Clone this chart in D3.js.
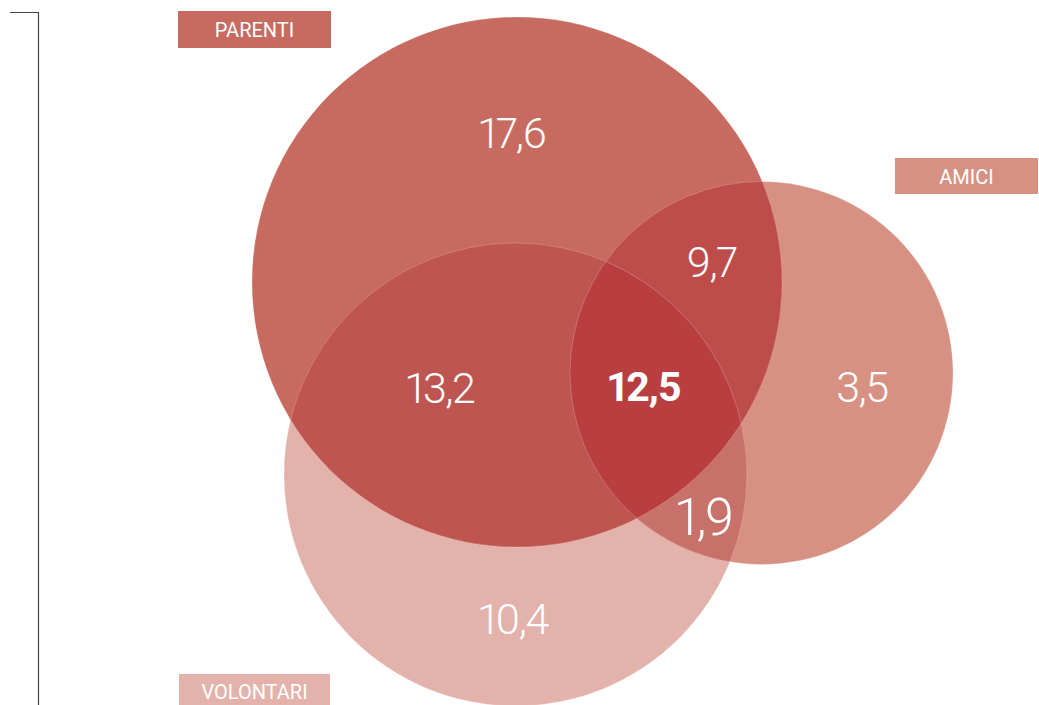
<!DOCTYPE html>
<html>
<head>
<meta charset="utf-8">
<script src="https://cdn.jsdelivr.net/npm/d3@7"></script>
<style>
  body { margin: 0; background: #fff; }
  svg { display: block; }
  .num { font-family: Roboto, sans-serif; font-weight: 300; fill: #fff; letter-spacing: -1.5px;
         font-variant-numeric: proportional-nums; font-feature-settings: "pnum" 1, "kern" 1; }
  .num.bold { font-weight: 700; letter-spacing: -1px; }
  .tag { font-family: Roboto, sans-serif; font-size: 20px; fill: #fff; }
</style>
</head>
<body>
<script>
// sets of the diagram
var sets = ["PARENTI", "AMICI", "VOLONTARI"];
var setColors = ["#c76b60", "#d69183", "#e3b2aa"];

// region values (%)
var regionKeys = ["P", "A", "V", "PA", "PV", "AV", "PAV"];
var regionValues = [17.6, 3.5, 10.4, 9.7, 13.2, 1.9, 12.5];

// layout (pixels): circles, region label anchors, tag boxes
var circles = [
  {cx: 517, cy: 282, r: 265},   // PARENTI
  {cx: 761.5, cy: 373, r: 191.5}, // AMICI
  {cx: 515.5, cy: 474.5, r: 231.5} // VOLONTARI
];
var labelPos = {
  P: [512, 148, 43], A: [862, 402, 43], V: [513, 634, 43],
  PA: [711.5, 277, 43], PV: [440, 403, 43], AV: [704, 535, 52], PAV: [644, 401, 41]
};
var tagBoxes = [
  {x: 178, y: 11, w: 153, h: 37, base: 37},
  {x: 895, y: 158, w: 143, h: 36, base: 184},
  {x: 179, y: 674, w: 151, h: 33, base: 699}
];
var overlapColors = {PA: "#bd4c4a", PV: "#bf5550", AV: "#c8706a", PAV: "#b93e40"};

var width = 1039, height = 705;
var it = d3.formatLocale({decimal: ",", thousands: ".", grouping: [3], currency: ["", "€"]});
var fmt = it.format(".1f");

var svg = d3.select("body").append("svg")
    .attr("width", width)
    .attr("height", height);

// bracket on the left
svg.append("path")
    .attr("d", "M10,12.5H38.5V705")
    .attr("fill", "none")
    .attr("stroke", "#444")
    .attr("stroke-width", 1.2);

var defs = svg.append("defs");
circles.forEach(function (c, i) {
  defs.append("clipPath").attr("id", "clip" + i)
    .append("circle").attr("cx", c.cx).attr("cy", c.cy).attr("r", c.r);
});
// nested clip P and V for the triple overlap
defs.append("clipPath").attr("id", "clipPV")
    .attr("clip-path", "url(#clip0)")
  .append("circle").attr("cx", circles[2].cx).attr("cy", circles[2].cy).attr("r", circles[2].r);

var g = svg.append("g");

// base circles, drawn so the lightest sits below
[2, 1, 0].forEach(function (i) {
  var c = circles[i];
  g.append("circle")
    .attr("cx", c.cx).attr("cy", c.cy).attr("r", c.r)
    .attr("fill", setColors[i]);
});

function overlay(circleIdx, clipId, color) {
  var c = circles[circleIdx];
  g.append("g").attr("clip-path", "url(#" + clipId + ")")
    .append("circle")
    .attr("cx", c.cx).attr("cy", c.cy).attr("r", c.r)
    .attr("fill", color);
}
overlay(2, "clip0", overlapColors.PV);
overlay(1, "clip0", overlapColors.PA);
overlay(1, "clip2", overlapColors.AV);
overlay(1, "clipPV", overlapColors.PAV);

// faint outlines
circles.forEach(function (c) {
  g.append("circle")
    .attr("cx", c.cx).attr("cy", c.cy).attr("r", c.r)
    .attr("fill", "none")
    .attr("stroke", "#fff")
    .attr("stroke-opacity", 0.25)
    .attr("stroke-width", 0.8);
});

// region numbers
svg.selectAll("text.num")
  .data(regionKeys)
  .enter().append("text")
    .attr("class", function (d) { return d === "PAV" ? "num bold" : "num"; })
    .attr("x", function (d) { return labelPos[d][0]; })
    .attr("y", function (d) { return labelPos[d][1]; })
    .attr("text-anchor", "middle")
    .style("font-size", function (d) { return labelPos[d][2] + "px"; })
    .text(function (d, i) { return fmt(regionValues[i]); });

// set tags
var tags = svg.selectAll("g.tagg")
  .data(sets)
  .enter().append("g").attr("class", "tagg");
tags.append("rect")
    .attr("x", function (d, i) { return tagBoxes[i].x; })
    .attr("y", function (d, i) { return tagBoxes[i].y; })
    .attr("width", function (d, i) { return tagBoxes[i].w; })
    .attr("height", function (d, i) { return tagBoxes[i].h; })
    .attr("fill", function (d, i) { return setColors[i]; });
tags.append("text")
    .attr("class", "tag")
    .attr("x", function (d, i) { return tagBoxes[i].x + tagBoxes[i].w / 2; })
    .attr("y", function (d, i) { return tagBoxes[i].base; })
    .attr("text-anchor", "middle")
    .text(function (d) { return d; });
</script>
</body>
</html>
